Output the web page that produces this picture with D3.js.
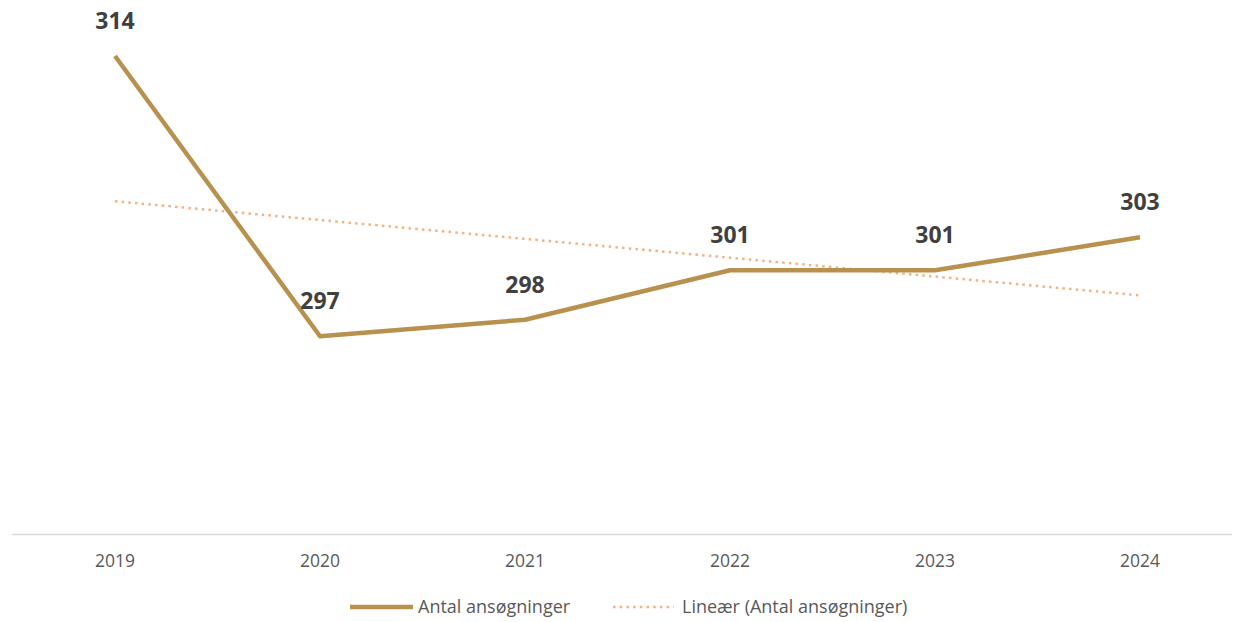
<!DOCTYPE html>
<html>
<head>
<meta charset="utf-8">
<script src="https://cdn.jsdelivr.net/npm/d3@7"></script>
<style>
  body { margin: 0; background: #fff; }
  text { font-family: "Open Sans", "Noto Sans", sans-serif; }
</style>
</head>
<body>
<div id="chart"></div>
<script>
(function () {

  // Data
  const years = ["2019", "2020", "2021", "2022", "2023", "2024"]
  const applications = [314, 297, 298, 301, 301, 303]
  const seriesName = "Antal ansøgninger"
  const trendName = "Lineær (Antal ansøgninger)"

  const W = 1233
  const H = 622

  const svg = d3.select("#chart").append("svg")
      .attr("width", W)
      .attr("height", H)

  // x: one band per year
  const xScale = d3.scaleBand()
    .domain(years)
    .range([12.5, 1242.5])

  const xc = d => xScale(d) + xScale.bandwidth() / 2

  // y scale
  const yScale = d3.scaleLinear()
    .domain([285, 314])
    .range([534, 56])

  const data = years.map((y, i) => ({ year: y, value: applications[i] }))

  // Linear trend (least squares, like the spreadsheet trendline)
  const n = applications.length
  const mx = (n + 1) / 2
  const my = d3.mean(applications)
  let sxy = 0, sxx = 0
  applications.forEach((v, i) => {
    sxy += (i + 1 - mx) * (v - my)
    sxx += (i + 1 - mx) * (i + 1 - mx)
  })
  const slope = sxy / sxx
  const trend = years.map((y, i) => ({ year: y, value: my + slope * (i + 1 - mx) }))

  // Axis baseline
  svg.append("line")
    .attr("x1", 12).attr("x2", 1232)
    .attr("y1", 534.5).attr("y2", 534.5)
    .attr("stroke", "#d9d9d9")
    .attr("stroke-width", 1.3)

  // Year labels
  svg.selectAll(".year")
    .data(years)
    .join("text")
    .attr("class", "year")
    .attr("x", d => xc(d))
    .attr("y", 567)
    .attr("text-anchor", "middle")
    .attr("font-size", 17.5)
    .attr("fill", "#595959")
    .text(d => d)

  const line = d3.line()
    .x(d => xc(d.year))
    .y(d => yScale(d.value))

  // Trendline
  svg.append("path")
    .datum(trend)
    .attr("d", line)
    .attr("fill", "none")
    .attr("stroke", "#f4b183")
    .attr("stroke-width", 2.5)
    .attr("stroke-dasharray", "2.5,4.2")

  // Main series
  svg.append("path")
    .datum(data)
    .attr("d", line)
    .attr("fill", "none")
    .attr("stroke", "#b8914f")
    .attr("stroke-width", 4.5)
    .attr("stroke-linejoin", "round")

  // Data labels
  svg.selectAll(".lbl")
    .data(data)
    .join("text")
    .attr("class", "lbl")
    .attr("x", d => xc(d.year))
    .attr("y", d => yScale(d.value) - 27)
    .attr("text-anchor", "middle")
    .attr("font-size", 23)
    .attr("font-weight", "bold")
    .attr("fill", "#404040")
    .text(d => d.value)

  // Legend
  const lg = svg.append("g")
  lg.append("line")
    .attr("x1", 350).attr("x2", 413)
    .attr("y1", 607).attr("y2", 607)
    .attr("stroke", "#b8914f")
    .attr("stroke-width", 4.5)
  lg.append("text")
    .attr("x", 418).attr("y", 613)
    .attr("font-size", 18)
    .attr("fill", "#595959")
    .text(seriesName)
  lg.append("line")
    .attr("x1", 613).attr("x2", 674)
    .attr("y1", 607).attr("y2", 607)
    .attr("stroke", "#f4b183")
    .attr("stroke-width", 2.5)
    .attr("stroke-dasharray", "2.5,4.2")
  lg.append("text")
    .attr("x", 682).attr("y", 613)
    .attr("font-size", 18)
    .attr("fill", "#595959")
    .text(trendName)

})();
</script>
</body>
</html>
